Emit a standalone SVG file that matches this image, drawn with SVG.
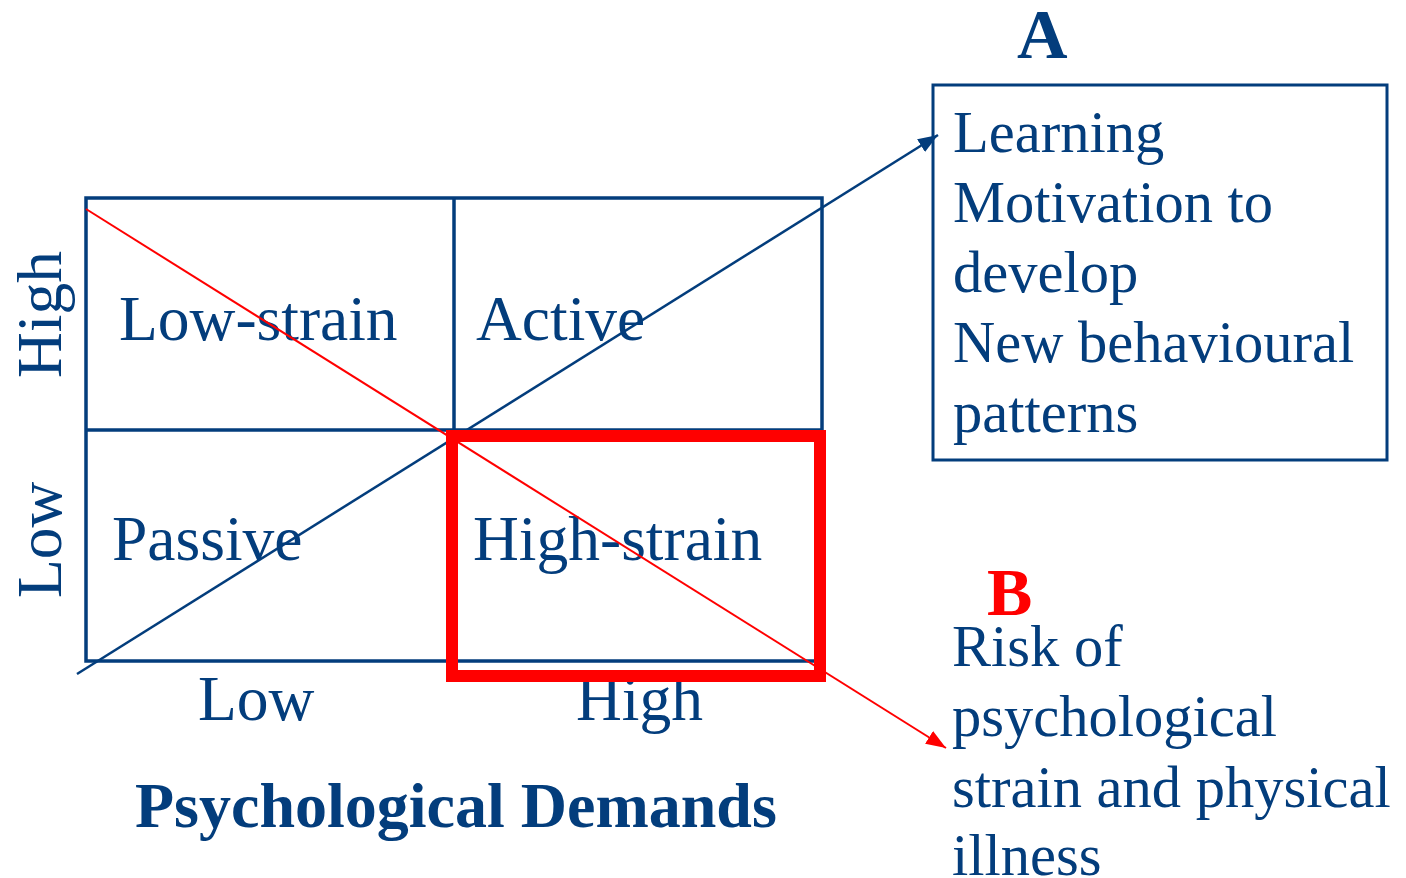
<svg xmlns="http://www.w3.org/2000/svg" width="1406" height="878" viewBox="0 0 1406 878">
<style>
.t{font-family:"Liberation Serif","Times New Roman",serif;fill:#033d7c}
.g{font-size:63.5px}
.s{font-size:58.5px}
.b{font-weight:bold}
.pd{font-size:64px;font-weight:bold}
.grid{fill:none;stroke:#033d7c;stroke-width:3.5}
</style>
<defs>
<marker id="ab" markerUnits="userSpaceOnUse" markerWidth="20" markerHeight="16" refX="16" refY="6" orient="auto" viewBox="0 0 16 12">
<path d="M0,0 L16,6 L0,12 Z" fill="#033d7c"/>
</marker>
<marker id="ar" markerUnits="userSpaceOnUse" markerWidth="20" markerHeight="16" refX="16" refY="6" orient="auto" viewBox="0 0 16 12">
<path d="M0,0 L16,6 L0,12 Z" fill="#ff0000"/>
</marker>
</defs>
<rect width="1406" height="878" fill="#ffffff"/>
<g id="grid">
<rect class="grid" x="86" y="198" width="736" height="463"/>
<line class="grid" x1="454" y1="198" x2="454" y2="661"/>
<line class="grid" x1="86" y1="430" x2="822" y2="430"/>
</g>
<g id="cells">
<text class="t g" x="119" y="340">Low-strain</text>
<text class="t g" x="476" y="340">Active</text>
<text class="t g" x="112" y="560">Passive</text>
<text class="t g" x="473" y="560">High-strain</text>
</g>
<g id="axes">
<text class="t g" x="198" y="720">Low</text>
<text class="t g" x="576" y="720">High</text>
<text class="t pd" x="135" y="827">Psychological Demands</text>
<text class="t g" transform="translate(61,378) rotate(-90)">High</text>
<text class="t g" transform="translate(61,598) rotate(-90)">Low</text>
</g>
<g id="connectors">
<line x1="77" y1="674" x2="938" y2="135" stroke="#033d7c" stroke-width="2.5" marker-end="url(#ab)"/>
<line x1="86" y1="209" x2="946" y2="748" stroke="#ff0000" stroke-width="2" marker-end="url(#ar)"/>
</g>
<g id="highlight">
<rect x="452" y="436" width="368" height="240" fill="none" stroke="#ff0000" stroke-width="12"/>
</g>
<g id="nodeA">
<rect x="933" y="85" width="454" height="375" fill="none" stroke="#033d7c" stroke-width="3"/>
<text class="t b" x="1017" y="58" font-size="70">A</text>
<text class="t s" x="953" y="152">Learning</text>
<text class="t s" x="953" y="222">Motivation to</text>
<text class="t s" x="953" y="292">develop</text>
<text class="t s" x="953" y="362">New behavioural</text>
<text class="t s" x="953" y="432">patterns</text>
</g>
<g id="nodeB">
<text class="t b" x="987" y="615" font-size="68" style="fill:#ff0000">B</text>
<text class="t s" x="952" y="666">Risk of</text>
<text class="t s" x="952" y="736">psychological</text>
<text class="t s" x="952" y="807">strain and physical</text>
<text class="t s" x="952" y="875">illness</text>
</g>
</svg>
